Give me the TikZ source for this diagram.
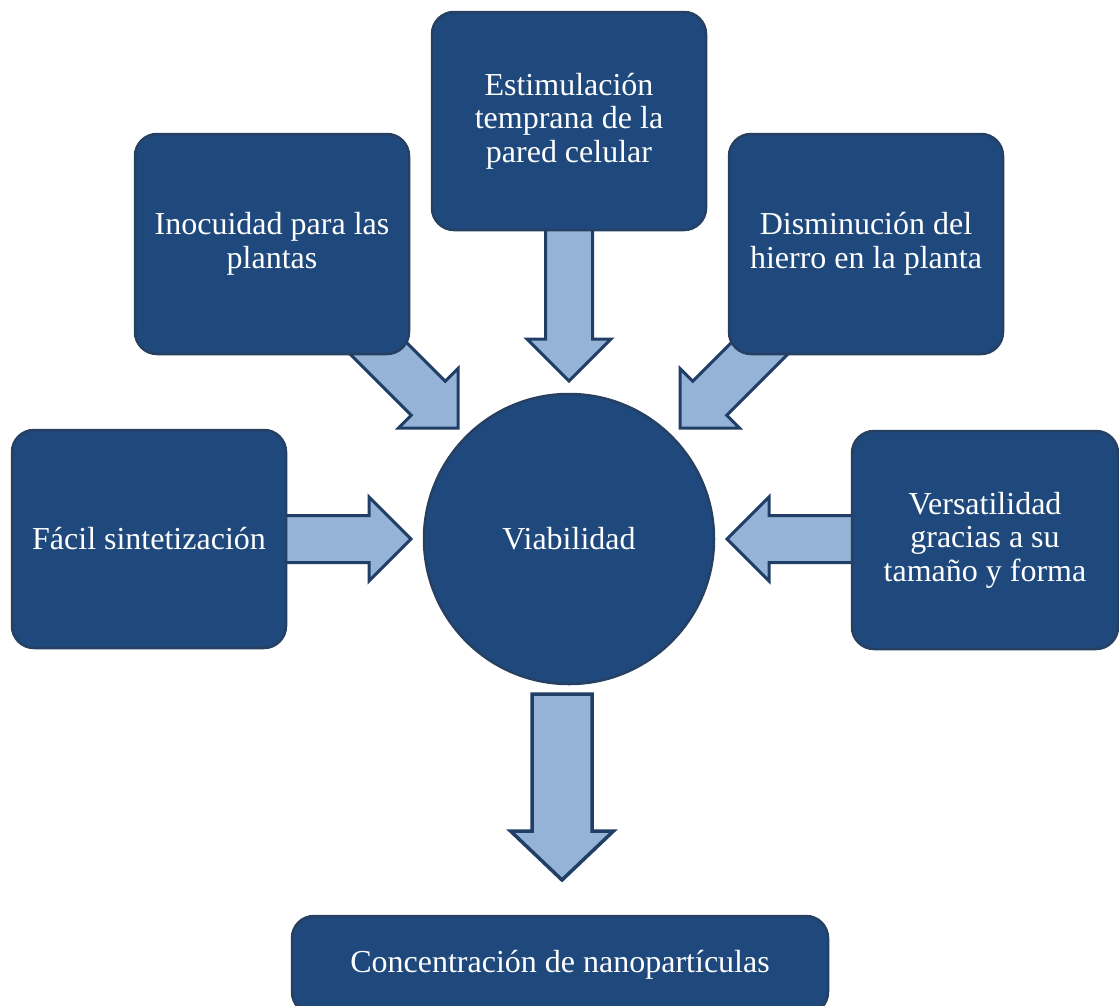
\documentclass[tikz,border=0pt]{standalone}
\usepackage{fontspec}
\setmainfont{Liberation Serif}
\usetikzlibrary{calc}
\definecolor{boxfill}{RGB}{31,73,125}
\definecolor{boxline}{RGB}{38,64,98}
\definecolor{arrfill}{RGB}{149,179,215}
\definecolor{arrline}{RGB}{33,62,102}
\tikzset{
  box/.style={draw=boxline, fill=boxfill, line width=2.5pt, rounded corners=22pt,
    text=white, font=\fontsize{32}{33.5}\selectfont, align=center, inner sep=0pt},
  hub/.style={circle, draw=boxline, fill=boxfill, line width=2.5pt, minimum size=290pt,
    text=white, font=\fontsize{32}{33.5}\selectfont, inner sep=0pt},
  arrowbody/.style={draw=arrline, fill=arrfill, line width=3pt, line join=miter},
}
\newcommand{\blkarrow}[7][]{% #2 id, #3 start, #4 tip, #5 shaft half, #6 head half, #7 head length
  \coordinate (#2h) at ($(#4)!#7!(#3)$);
  \draw[arrowbody,#1] (#4) -- ($(#2h)!#6!90:(#4)$) -- ($(#2h)!#5!90:(#4)$) -- ($(#3)!#5!90:(#4)$)
    -- ($(#3)!#5!-90:(#4)$) -- ($(#2h)!#5!-90:(#4)$) -- ($(#2h)!#6!-90:(#4)$) -- cycle;
}
\begin{document}
\begin{tikzpicture}[x=1pt,y=-1pt]
\useasboundingbox (0,0) rectangle (1119,1005);
% arrow end points
\coordinate (aLs) at (270,539);  \coordinate (aLt) at (411,539);
\coordinate (aRs) at (868,539);  \coordinate (aRt) at (727,539);
\coordinate (aTs) at (569,215);  \coordinate (aTt) at (569,381);
\coordinate (aULs) at (355,325); \coordinate (aULt) at (458,428);
\coordinate (aURs) at (783,325); \coordinate (aURt) at (680,428);
\coordinate (aBs) at (562,694);  \coordinate (aBt) at (562,880);
% block arrows
\blkarrow{al}{aLs}{aLt}{23.5pt}{42pt}{42pt}
\blkarrow{ar}{aRs}{aRt}{23.5pt}{42pt}{42pt}
\blkarrow{at}{aTs}{aTt}{23.5pt}{42pt}{42pt}
\blkarrow{aul}{aULs}{aULt}{24pt}{42pt}{42pt}
\blkarrow{aur}{aURs}{aURt}{24pt}{42pt}{42pt}
\blkarrow[line width=3.5pt]{ab}{aBs}{aBt}{30pt}{51.5pt}{49pt}
% boxes
\node[box, minimum width=274pt, minimum height=218pt] (top) at (569,121) {Estimulación\\temprana de la\\pared celular};
\node[box, minimum width=274pt, minimum height=220pt] (ul) at (272,244) {Inocuidad para las\\plantas};
\node[box, minimum width=274pt, minimum height=220pt] (ur) at (866,244) {Disminución del\\hierro en la planta};
\node[box, minimum width=274pt, minimum height=218pt] (lf) at (149,539) {Fácil sintetización};
\node[box, minimum width=266pt, minimum height=218pt] (rt) at (985,540) {Versatilidad\\gracias a su\\tamaño y forma};
\node[hub] (c) at (569,539) {Viabilidad};
\node[box, minimum width=536pt, minimum height=98pt] (bt) at (560,965) {Concentración de nanopartículas};
\end{tikzpicture}
\end{document}
